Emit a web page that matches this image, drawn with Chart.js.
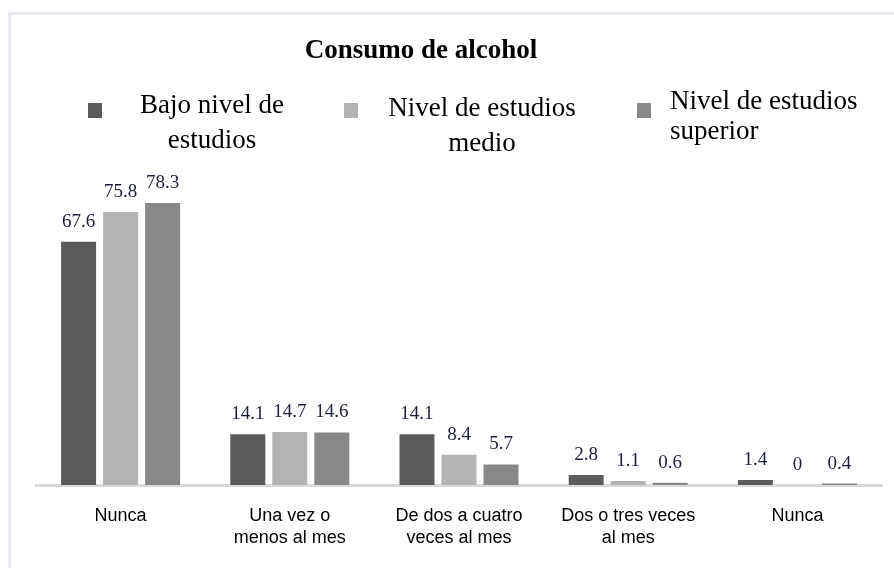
<!DOCTYPE html>
<html>
<head>
<meta charset="utf-8">
<script src="https://cdn.jsdelivr.net/npm/chart.js@4.4.1/dist/chart.umd.min.js"></script>
<style>
  html, body { margin: 0; padding: 0; background: #fff; overflow: hidden; }
  #frame {
    position: absolute; left: 8px; top: 12px; width: 920px; height: 600px;
    border: 3px solid #e8e8ef; box-sizing: border-box;
  }
  #wrap { position: absolute; left: 0; top: 0; width: 894px; height: 568px; }
</style>
</head>
<body>
<div id="frame"></div>
<div id="wrap"><canvas id="alcoholChart"></canvas></div>
<script>
// Consumo de alcohol
const categories = [
  'Nunca',
  ['Una vez o', 'menos al mes'],
  ['De dos a cuatro', 'veces al mes'],
  ['Dos o tres veces', 'al mes'],
  'Nunca'
];
const bajoNivel = [67.6, 14.1, 14.1, 2.8, 1.4];
const nivelMedio = [75.8, 14.7, 8.4, 1.1, 0];
const nivelSuperior = [78.3, 14.6, 5.7, 0.6, 0.4];

const seriesNames = [
  ['Bajo nivel de', 'estudios'],
  ['Nivel de estudios', 'medio'],
  ['Nivel de estudios', 'superior']
];
const seriesColors = ['#5b5b5b', '#b3b3b3', '#888888'];
const chartTitle = 'Consumo de alcohol';

const SERIF = '"Liberation Serif", "Times New Roman", serif';

// value labels above each bar
const valueLabels = {
  id: 'valueLabels',
  afterDatasetsDraw(chart) {
    const ctx = chart.ctx;
    ctx.save();
    ctx.font = '19px ' + SERIF;
    ctx.fillStyle = '#1c1f38';
    ctx.textAlign = 'center';
    ctx.textBaseline = 'alphabetic';
    chart.data.datasets.forEach((ds, i) => {
      chart.getDatasetMeta(i).data.forEach((bar, j) => {
        ctx.fillText(String(ds.data[j]), bar.x, bar.y - 15);
      });
    });
    ctx.restore();
  }
};

// title and the wrapped legend, drawn the way the original shows them
const headerPlugin = {
  id: 'header',
  afterDraw(chart) {
    const ctx = chart.ctx;
    ctx.save();
    ctx.fillStyle = '#000';
    ctx.textBaseline = 'alphabetic';
    ctx.font = 'bold 27px ' + SERIF;
    ctx.textAlign = 'center';
    ctx.fillText(chartTitle, 421, 58);

    ctx.font = '27px ' + SERIF;
    // [marker x, text x, align, line1 baseline, line2 baseline]
    const spots = [
      [88, 212, 'center', 113, 148],
      [344, 482, 'center', 116, 151],
      [637, 670, 'left', 109, 139]
    ];
    spots.forEach((s, i) => {
      ctx.fillStyle = seriesColors[i];
      ctx.fillRect(s[0], 103, 14, 15);
      ctx.fillStyle = '#000';
      ctx.textAlign = s[2];
      ctx.fillText(seriesNames[i][0], s[1], s[3]);
      ctx.fillText(seriesNames[i][1], s[1], s[4]);
    });
    ctx.restore();
  }
};

const datasets = [bajoNivel, nivelMedio, nivelSuperior].map((d, i) => ({
  label: seriesNames[i].join(' '),
  data: d,
  backgroundColor: seriesColors[i],
  borderWidth: 0,
  categoryPercentage: 0.745,
  barPercentage: 0.833
}));

new Chart(document.getElementById('alcoholChart'), {
  type: 'bar',
  data: { labels: categories, datasets },
  plugins: [valueLabels, headerPlugin],
  options: {
    responsive: true,
    maintainAspectRatio: false,
    animation: false,
    layout: { padding: { left: 36, right: 12, top: 197, bottom: 0 } },
    plugins: {
      legend: { display: false },
      title: { display: false },
      tooltip: { enabled: false }
    },
    scales: {
      y: {
        display: false,
        min: 0,
        max: 80
      },
      x: {
        grid: { display: false, drawTicks: false },
        border: { display: true, color: '#d9d9d9', width: 3 },
        ticks: {
          padding: 21,
          color: '#000',
          maxRotation: 0,
          autoSkip: false,
          font: { family: '"Liberation Sans", Arial, sans-serif', size: 18, lineHeight: 1.17 }
        },
        afterFit: (scale) => { scale.height = 83; }
      }
    }
  }
});
</script>
</body>
</html>
